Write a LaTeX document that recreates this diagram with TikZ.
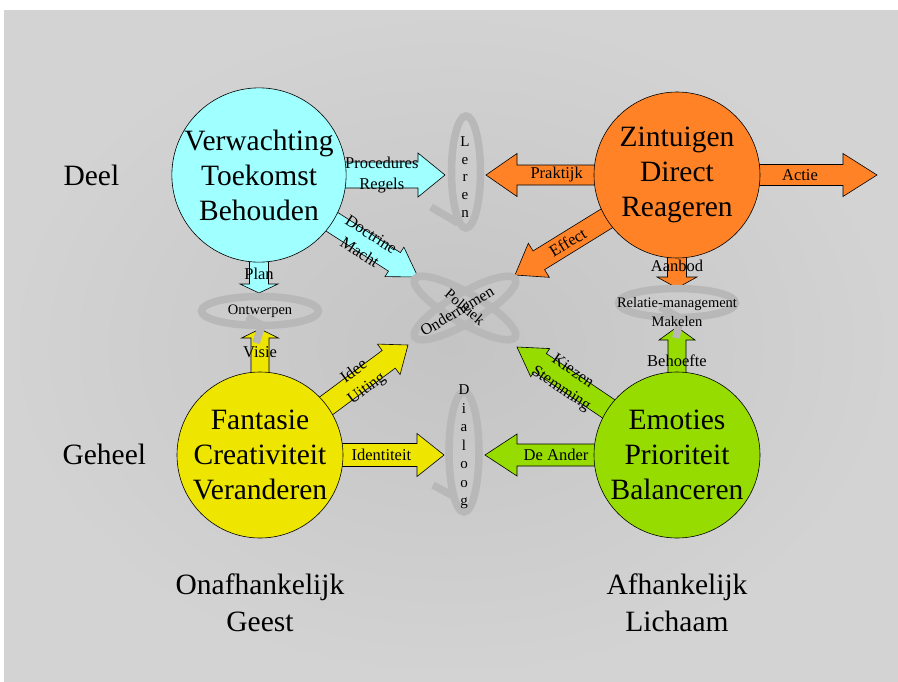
\documentclass[tikz,border=0pt]{standalone}
\usepackage{fontspec}
\setmainfont{Liberation Serif}
\usepackage{tikz}
\usetikzlibrary{calc}
\pgfdeclarelayer{background}
\pgfsetlayers{background,main}
\definecolor{bggray}{RGB}{211,211,211}
\definecolor{bgdark}{RGB}{196,196,196}
\definecolor{loopgray}{RGB}{184,184,184}
\definecolor{cyanish}{RGB}{160,255,255}
\definecolor{orangish}{RGB}{255,131,38}
\definecolor{yellowish}{RGB}{238,230,0}
\definecolor{greenish}{RGB}{150,220,0}
\def\thickness{0.6pt}
\tikzstyle{bubble}=[circle, draw=black, line width=\thickness, minimum size=166pt, inner sep=0pt, align=center, font=\fontsize{29.5}{35}\selectfont]
\tikzstyle{bigtext}=[align=center, font=\fontsize{29.5}{37}\selectfont]
\tikzstyle{smalltext}=[align=center, font=\fontsize{16.5}{21}\selectfont]
\tikzstyle{looptext}=[align=center, font=\fontsize{14.5}{18.5}\selectfont]
\tikzstyle{loop}=[draw=loopgray, line width=7.5pt]
\tikzset{
  shaftw/.initial=11pt,
  headw/.initial=21pt,
  headl/.initial=28pt,
  labelpos/.initial=0.65,
  arrowlabel/.style={sloped},
}
% block arrow from the centre of a bubble to its tip
\newcommand\blockarrow[5][]{%
  \begin{scope}[#1]
  \edef\sw{\pgfkeysvalueof{/tikz/shaftw}}%
  \edef\hw{\pgfkeysvalueof{/tikz/headw}}%
  \coordinate (hb) at ($(#3)!\pgfkeysvalueof{/tikz/headl}!(#2)$);
  \filldraw[fill=#4, draw=black, line width=\thickness]
    ($(#2)!\sw!90:(#3)$) -- ($(hb)!\sw!90:(#3)$) -- ($(hb)!\hw!90:(#3)$) -- (#3)
    -- ($(hb)!\hw!-90:(#3)$) -- ($(hb)!\sw!-90:(#3)$) -- ($(#2)!\sw!-90:(#3)$) -- cycle;
  \path (#2) -- (#3) node[smalltext, arrowlabel, pos=\pgfkeysvalueof{/tikz/labelpos}] {#5};
  \end{scope}}

\begin{document}
\begin{tikzpicture}[x=1pt, y=-1pt]
\useasboundingbox (0,0) rectangle (898,681);
% the four bubbles
\node[bubble, fill=cyanish] (verw) at (259,175) {Verwachting\\Toekomst\\Behouden};
\node[bubble, fill=orangish] (zint) at (677,175) {Zintuigen\\Direct\\Reageren};
\node[bubble, fill=yellowish] (fant) at (260,455) {Fantasie\\Creativiteit\\Veranderen};
\node[bubble, fill=greenish] (emot) at (677,455) {Emoties\\Prioriteit\\Balanceren};
% arrow tips
\coordinate (lerenW) at (445,175);
\coordinate (lerenE) at (486,175);
\coordinate (actieTip) at (877,175);
\coordinate (doctrineTip) at (418,277);
\coordinate (effectTip) at (515,275);
\coordinate (planTip) at (259,293);
\coordinate (aanbodTip) at (677,288);
\coordinate (visieTip) at (260,329);
\coordinate (behoefteTip) at (677,327);
\coordinate (ideeTip) at (408,345);
\coordinate (kiezenTip) at (517,347);
\coordinate (dialoogW) at (444,455);
\coordinate (dialoogE) at (485,455);

\begin{pgfonlayer}{background}
\fill[white] (0,0) rectangle (898,681);
\shade[inner color=bgdark, outer color=bggray] (4,10) rectangle (898,681);
\blockarrow[labelpos=0.66, shaftw=13pt, headw=22pt, headl=27pt]{verw.center}{lerenW}{cyanish}{Procedures\\Regels}
\blockarrow[labelpos=0.67, shaftw=11pt, headw=17.5pt, headl=28pt]{verw.center}{doctrineTip}{cyanish}{Doctrine\\Macht}
\blockarrow[labelpos=0.84, shaftw=9.5pt, headw=19pt, headl=9pt, arrowlabel/.style={}]{verw.center}{planTip}{cyanish}{Plan}
\blockarrow[labelpos=0.63, shaftw=10pt, headw=21.5pt, headl=31pt]{zint.center}{lerenE}{orangish}{Praktijk}
\blockarrow[labelpos=0.615, shaftw=10.5pt, headw=21.5pt, headl=34pt]{zint.center}{actieTip}{orangish}{Actie}
\blockarrow[labelpos=0.675, shaftw=11pt, headw=20pt, headl=28pt]{zint.center}{effectTip}{orangish}{Effect}
\blockarrow[labelpos=0.8, shaftw=9.5pt, headw=20pt, headl=11pt, arrowlabel/.style={}]{zint.center}{aanbodTip}{orangish}{Aanbod}
\blockarrow[labelpos=0.82, shaftw=9pt, headw=18.5pt, headl=9pt, arrowlabel/.style={}]{fant.center}{visieTip}{yellowish}{Visie}
\blockarrow[labelpos=0.68, shaftw=11pt, headw=19pt, headl=24pt]{fant.center}{ideeTip}{yellowish}{Idee\\Uiting}
\blockarrow[labelpos=0.66, shaftw=11.5pt, headw=21.5pt, headl=27pt]{fant.center}{dialoogW}{yellowish}{Identiteit}
\blockarrow[labelpos=0.63, shaftw=11pt, headw=21pt, headl=32pt]{emot.center}{dialoogE}{greenish}{De Ander}
\blockarrow[labelpos=0.69, shaftw=11pt, headw=17pt, headl=28pt]{emot.center}{kiezenTip}{greenish}{Kiezen\\Stemming}
\blockarrow[labelpos=0.74, shaftw=9pt, headw=18pt, headl=13pt, arrowlabel/.style={}]{emot.center}{behoefteTip}{greenish}{Behoefte}
\end{pgfonlayer}

% side texts
\node[bigtext, anchor=west] (deel) at (60,175) {Deel};
\node[bigtext, anchor=west] (geheel) at (59,454) {Geheel};
\node[bigtext] (onafh) at (260,603) {Onafhankelijk\\Geest};
\node[bigtext] (afh) at (677,603) {Afhankelijk\\Lichaam};

% grey loops
\draw[loop] (466,172) ellipse (14.5pt and 56pt);
\draw[loop] (431,207) -- (458,223);
\node[looptext, font=\fontsize{15}{17.8}\selectfont] (leren) at (465,177) {L\\e\\r\\e\\n};
\draw[loop] (464,452) ellipse (15pt and 60pt);
\draw[loop] (433,485) -- (455,497);
\node[looptext, font=\fontsize{15}{18.5}\selectfont] (dialoog) at (464,447) {D\\i\\a\\l\\o\\o\\g};
\draw[loop] (260,311) ellipse (58.5pt and 14.5pt);
\draw[loop] (247,317) -- (262,325) -- (256,343);
\node[looptext] (ontwerpen) at (260,311) {Ontwerpen};
\draw[loop] (677,303) ellipse (58.5pt and 14.5pt);
\draw[loop] (660,307) -- (680,318) -- (676,338);
\node[looptext, font=\fontsize{14.5}{19}\selectfont] (relatie) at (677,312) {Relatie-management\\Makelen};
\draw[loop, rotate around={30:(465,308)}] (465,308) ellipse (58pt and 15pt);
\draw[loop, rotate around={-30:(465,308)}] (465,308) ellipse (58pt and 15pt);
\node[looptext, rotate=-40, font=\fontsize{15}{18}\selectfont] (politiek) at (465,307) {Politiek};
\node[looptext, rotate=31, font=\fontsize{16}{18}\selectfont] (ondernemen) at (457,311) {Ondernemen};
\end{tikzpicture}
\end{document}
